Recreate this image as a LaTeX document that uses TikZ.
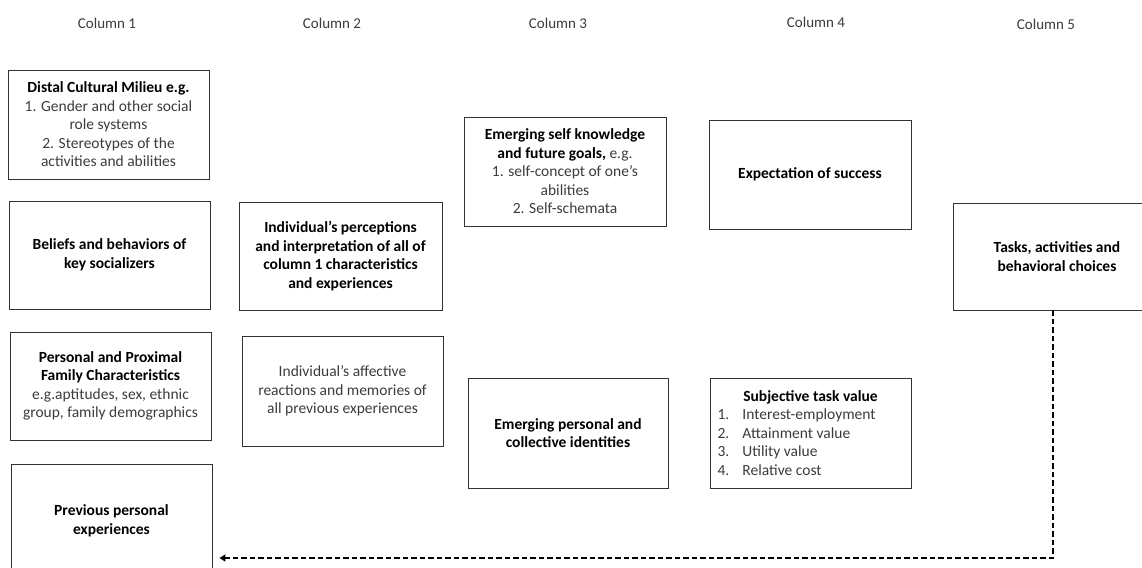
\documentclass[tikz,border=0pt]{standalone}
\usepackage{fontspec}
\setmainfont{Carlito}
\usetikzlibrary{arrows.meta}
\definecolor{txtgray}{HTML}{3C3C3C}
\definecolor{boxline}{HTML}{333333}
\begin{document}
\begin{tikzpicture}[x=1pt,y=-1pt,
  box/.style={draw=boxline, line width=0.9pt, align=center, inner sep=0pt,
    text=txtgray, font=\fontsize{15.5}{18.5}\selectfont},
  collabel/.style={text=txtgray, font=\fontsize{15}{18}\selectfont, inner sep=0pt},
  feedback/.style={draw=black, line width=2.8pt, dash pattern=on 5.5pt off 3pt,
    -{Triangle[length=6pt,width=7pt]}, shorten >=7pt}]
\useasboundingbox (0,0) rectangle (1142,567);
\clip (0,0) rectangle (1142,567);
\fill[white] (0,0) rectangle (1142,567);
\newcommand{\hb}[1]{\textcolor{black}{\textbf{#1}}}

% column labels
\node[collabel] (c1) at (107,23) {Column 1};
\node[collabel] (c2) at (332,23) {Column 2};
\node[collabel] (c3) at (558,23) {Column 3};
\node[collabel] (c4) at (816,22) {Column 4};
\node[collabel] (c5) at (1046,24) {Column 5};

% column 1
\node[box, minimum width=201pt, minimum height=109pt] (distal) at (108.5,124.5)
  {\hb{Distal Cultural Milieu e.g.}\\1. Gender and other social\\role systems\\2. Stereotypes of the\\activities and abilities};
\node[box, minimum width=201pt, minimum height=108pt] (beliefs) at (109.5,255)
  {\hb{Beliefs and behaviors of}\\\hb{key socializers}};
\node[box, minimum width=201pt, minimum height=108pt] (family) at (110.5,386)
  {\hb{Personal and Proximal}\\\hb{Family Characteristics}\\e.g.aptitudes, sex, ethnic\\group, family demographics};
\node[box, minimum width=201pt, minimum height=114pt] (prev) at (111.5,521)
  {\hb{Previous personal}\\\hb{experiences}};

% column 2
\node[box, minimum width=203pt, minimum height=108pt] (percep) at (340.5,256)
  {\hb{Individual’s perceptions}\\\hb{and interpretation of all of}\\\hb{column 1 characteristics}\\\hb{and experiences}};
\node[box, minimum width=201pt, minimum height=110pt] (affect) at (342.5,391)
  {Individual’s affective\\reactions and memories of\\all previous experiences};

% column 3
\node[box, minimum width=202pt, minimum height=109pt] (selfk) at (565,171.5)
  {\hb{Emerging self knowledge}\\\hb{and future goals,} e.g.\\1. self-concept of one’s\\abilities\\2. Self-schemata};
\node[box, minimum width=200pt, minimum height=110pt] (ident) at (568,433)
  {\hb{Emerging personal and}\\\hb{collective identities}};

% column 4
\node[box, minimum width=202pt, minimum height=109pt] (expect) at (810,174.5)
  {\hb{Expectation of success}};
\node[box, minimum width=201pt, minimum height=110pt] (stv) at (810.5,433)
  {\hb{Subjective task value}\\
   \makebox[186pt][l]{\makebox[25pt][l]{1.}Interest-employment}\\
   \makebox[186pt][l]{\makebox[25pt][l]{2.}Attainment value}\\
   \makebox[186pt][l]{\makebox[25pt][l]{3.}Utility value}\\
   \makebox[186pt][l]{\makebox[25pt][l]{4.}Relative cost}};

% column 5
\node[box, minimum width=208pt, minimum height=107pt] (tasks) at (1057,256.5)
  {\hb{Tasks, activities and}\\\hb{behavioral choices}};

% feedback connector
\coordinate (turn) at (1053,558);
\draw[feedback] (tasks.south -| turn) -- (turn) -- (prev.east |- turn);
\end{tikzpicture}
\end{document}
